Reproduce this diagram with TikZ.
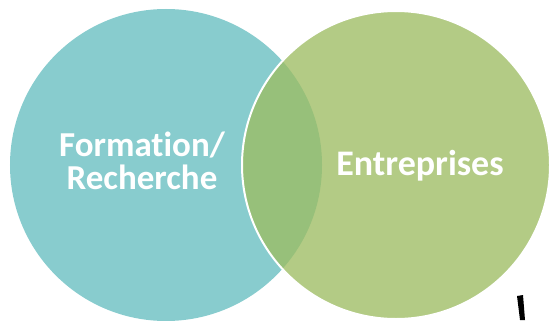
\documentclass[tikz,border=0pt]{standalone}
\usepackage{fontspec}
\setmainfont{Carlito}[Ligatures=NoCommon]
\usepackage{tikz}
\usetikzlibrary{positioning}
\definecolor{formteal}{HTML}{88CCCE}
\definecolor{entgreen}{HTML}{B3CB85}
\definecolor{overlapgreen}{HTML}{97C07A}

\begin{document}
\begin{tikzpicture}[x=1bp, y=1bp]
    \def\rl{156}
    \def\rr{154}
    % Page frame
    \useasboundingbox (0,0) rectangle (550,320);
    \clip (0,0) rectangle (550,320);
    % Circles
    \node[circle, fill=formteal, inner sep=0pt, minimum size=2*\rl bp] (formation) at (166,155) {};
    \node[circle, fill=entgreen, inner sep=0pt, minimum size=2*\rr bp] (entreprises) at (396,155) {};
    % Overlap
    \begin{scope}
        \clip (entreprises.center) circle[radius=\rr];
        \fill[overlapgreen] (formation.center) circle[radius=\rl];
    \end{scope}
    \draw[white, line width=2bp] (entreprises.center) circle[radius=\rr];
    % Labels
    \node[text=white, font=\fontsize{35bp}{33bp}\selectfont\bfseries, align=center, anchor=base] (formlabel) at (142,131) {Formation/\\Recherche};
    \node[text=white, font=\fontsize{36bp}{33bp}\selectfont\bfseries, anchor=base] (entlabel) at (420,145) {Entreprises};
    % Pen mark
    \fill[black] (517,24) -- (523,25) -- (525,0) -- (520,0) -- cycle;
\end{tikzpicture}
\end{document}
